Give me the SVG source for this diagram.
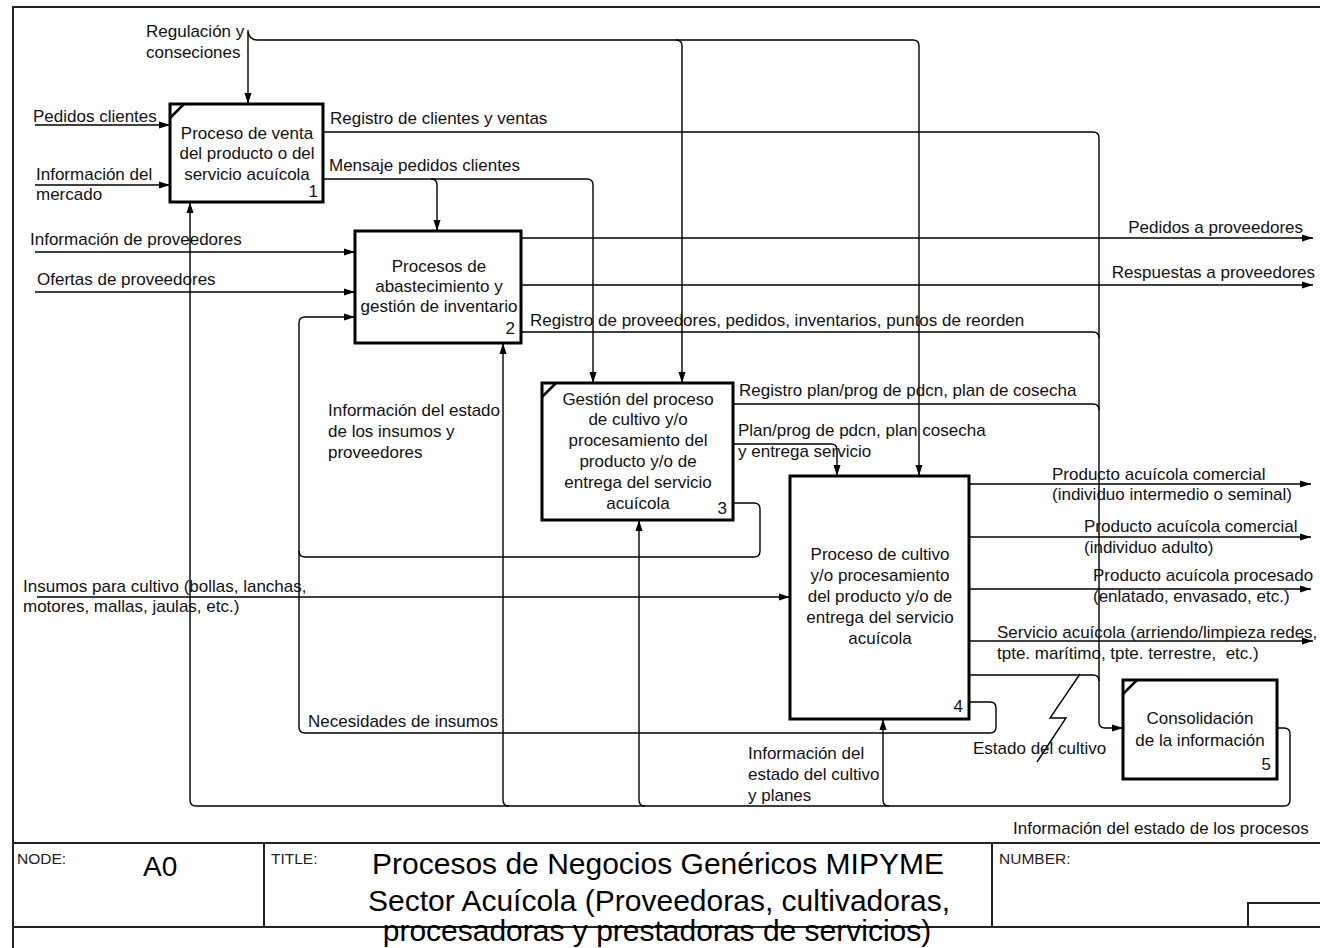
<svg xmlns="http://www.w3.org/2000/svg" width="1320" height="948" viewBox="0 0 1320 948">
<style>
.bg{fill:#fff}
.frame{fill:none;stroke:#222;stroke-width:2}
.box{fill:#fff;stroke:#000;stroke-width:3}
.tick{stroke:#000;stroke-width:2.5}
.ln{fill:none;stroke:#000;stroke-width:1.4}
.t{font-family:"Liberation Sans",Arial,sans-serif;font-size:17px;fill:#111}
.c{text-anchor:middle}
.r{text-anchor:end}
.sm{font-family:"Liberation Sans",Arial,sans-serif;font-size:15.5px;fill:#222}
.big{font-family:"Liberation Sans",Arial,sans-serif;font-size:30px;fill:#000}
</style>
<defs>
<marker id="ah" markerUnits="userSpaceOnUse" markerWidth="11" markerHeight="8" viewBox="0 0 11 8" refX="11" refY="4" orient="auto">
<path d="M0,0.5 L11,4 L0,7.5 z" fill="#000"/>
</marker>
</defs>
<rect class="bg" x="0" y="0" width="1320" height="948"/>
<g id="frame">
<path class="frame" d="M13 948 L13 7 L1320 7"/>
<path class="frame" d="M13 843 H1320 M13 927 H1320 M264 843 V927 M992 843 V927 M1248 927 V903 H1320"/>
<text class="sm" x="17" y="864">NODE:</text>
<text x="143" y="876" style="font-family:'Liberation Sans',Arial,sans-serif;font-size:28px">A0</text>
<text class="sm" x="271" y="864">TITLE:</text>
<text class="sm" x="999" y="864">NUMBER:</text>
<text class="big c" x="658" y="874">Procesos de Negocios Genéricos MIPYME</text>
<text class="big c" x="659" y="911">Sector Acuícola (Proveedoras, cultivadoras,</text>
<text class="big c" x="657" y="941">procesadoras y prestadoras de servicios)</text>
</g>
<g id="connectors">
<path class="ln" d="M248 30 L248 104" marker-end="url(#ah)"/>
<path class="ln" d="M248 32 Q250 40 257 40 L676 40 Q682 40 682 46 L682 383" marker-end="url(#ah)"/>
<path class="ln" d="M676 40 L913 40 Q919 40 919 46 L919 476" marker-end="url(#ah)"/>
<path class="ln" d="M35 125 L170 125" marker-end="url(#ah)"/>
<path class="ln" d="M35 185 L170 185" marker-end="url(#ah)"/>
<path class="ln" d="M323 132 L1093 132 Q1099 132 1099 138 L1099 722 Q1099 728 1105 728 L1123 728" marker-end="url(#ah)"/>
<path class="ln" d="M323 179 L431 179 Q437 179 437 185 L437 231" marker-end="url(#ah)"/>
<path class="ln" d="M431 179 L587 179 Q593 179 593 185 L593 383" marker-end="url(#ah)"/>
<path class="ln" d="M35 252 L355 252" marker-end="url(#ah)"/>
<path class="ln" d="M35 292 L355 292" marker-end="url(#ah)"/>
<path class="ln" d="M521 238 L1313 238" marker-end="url(#ah)"/>
<path class="ln" d="M521 285 L1313 285" marker-end="url(#ah)"/>
<path class="ln" d="M521 332 L1093 332 Q1099 332 1099 338"/>
<path class="ln" d="M733 404 L1093 404 Q1099 404 1099 410"/>
<path class="ln" d="M733 444 L831 444 Q837 444 837 450 L837 476" marker-end="url(#ah)"/>
<path class="ln" d="M733 503 L754 503 Q760 503 760 509 L760 551 Q760 557 754 557 L305 557 Q299 557 299 551"/>
<path class="ln" d="M969 702 L990 702 Q996 702 996 708 L996 727 Q996 733 990 733 L305 733 Q299 733 299 727 L299 323 Q299 317 305 317 L355 317" marker-end="url(#ah)"/>
<path class="ln" d="M37 597 L790 597" marker-end="url(#ah)"/>
<path class="ln" d="M969 484 L1311 484" marker-end="url(#ah)"/>
<path class="ln" d="M969 537 L1311 537" marker-end="url(#ah)"/>
<path class="ln" d="M969 589 L1311 589" marker-end="url(#ah)"/>
<path class="ln" d="M969 641 L1313 641" marker-end="url(#ah)"/>
<path class="ln" d="M969 675 L1093 675 Q1099 675 1099 681"/>
<path class="ln" d="M1080 674 L1050 718 L1066 718 L1037 762"/>
<path class="ln" d="M1277 728 L1284 728 Q1290 728 1290 734 L1290 800 Q1290 806 1284 806 L196 806 Q190 806 190 800 L190 202" marker-end="url(#ah)"/>
<path class="ln" d="M509 806 Q503 806 503 800 L503 343" marker-end="url(#ah)"/>
<path class="ln" d="M645 806 Q639 806 639 800 L639 520" marker-end="url(#ah)"/>
<path class="ln" d="M889 806 Q883 806 883 800 L883 719" marker-end="url(#ah)"/>
</g>
<g id="labels">
<text class="t" x="146" y="37">Regulación y</text>
<text class="t" x="146" y="58">conseciones</text>
<text class="t" x="33" y="122">Pedidos clientes</text>
<text class="t" x="36" y="180">Información del</text>
<text class="t" x="36" y="200">mercado</text>
<text class="t" x="330" y="124">Registro de clientes y ventas</text>
<text class="t" x="329" y="171">Mensaje pedidos clientes</text>
<text class="t" x="30" y="245">Información de proveedores</text>
<text class="t" x="37" y="285">Ofertas de proveedores</text>
<text class="t r" x="1303" y="233">Pedidos a proveedores</text>
<text class="t r" x="1315" y="278">Respuestas a proveedores</text>
<text class="t" x="530" y="326">Registro de proveedores, pedidos, inventarios, puntos de reorden</text>
<text class="t" x="328" y="416">Información del estado</text>
<text class="t" x="328" y="437">de los insumos y</text>
<text class="t" x="328" y="458">proveedores</text>
<text class="t" x="739" y="396">Registro plan/prog de pdcn, plan de cosecha</text>
<text class="t" x="738" y="436">Plan/prog de pdcn, plan cosecha</text>
<text class="t" x="738" y="457">y entrega servicio</text>
<text class="t" x="1052" y="480">Producto acuícola comercial</text>
<text class="t" x="1052" y="500">(individuo intermedio o seminal)</text>
<text class="t" x="1084" y="532">Producto acuícola comercial</text>
<text class="t" x="1084" y="553">(individuo adulto)</text>
<text class="t" x="1093" y="581">Producto acuícola procesado</text>
<text class="t" x="1093" y="602">(enlatado, envasado, etc.)</text>
<text class="t" x="997" y="638">Servicio acuícola (arriendo/limpieza redes,</text>
<text class="t" x="997" y="659">tpte. marítimo, tpte. terrestre,&#160; etc.)</text>
<text class="t" x="23" y="592">Insumos para cultivo (bollas, lanchas,</text>
<text class="t" x="23" y="612">motores, mallas, jaulas, etc.)</text>
<text class="t" x="308" y="727">Necesidades de insumos</text>
<text class="t" x="973" y="754">Estado del cultivo</text>
<text class="t" x="748" y="759">Información del</text>
<text class="t" x="748" y="780">estado del cultivo</text>
<text class="t" x="748" y="801">y planes</text>
<text class="t" x="1013" y="834">Información del estado de los procesos</text>
</g>
<g id="node1">
<rect class="box" x="170" y="104" width="153" height="98"/>
<line class="tick" x1="170" y1="118" x2="184" y2="104"/>
<text class="t c" x="247" y="139">Proceso de venta</text>
<text class="t c" x="247" y="159">del producto o del</text>
<text class="t c" x="247" y="180">servicio acuícola</text>
<text class="t r" x="318" y="197">1</text>
</g>
<g id="node2">
<rect class="box" x="355" y="231" width="166" height="112"/>
<text class="t c" x="439" y="272">Procesos de</text>
<text class="t c" x="439" y="292">abastecimiento y</text>
<text class="t c" x="439" y="312">gestión de inventario</text>
<text class="t r" x="515" y="334">2</text>
</g>
<g id="node3">
<rect class="box" x="542" y="383" width="191" height="137"/>
<line class="tick" x1="542" y1="397" x2="556" y2="383"/>
<text class="t c" x="638" y="405">Gestión del proceso</text>
<text class="t c" x="638" y="425">de cultivo y/o</text>
<text class="t c" x="638" y="446">procesamiento del</text>
<text class="t c" x="638" y="467">producto y/o de</text>
<text class="t c" x="638" y="488">entrega del servicio</text>
<text class="t c" x="638" y="509">acuícola</text>
<text class="t r" x="727" y="514">3</text>
</g>
<g id="node4">
<rect class="box" x="790" y="476" width="179" height="243"/>
<text class="t c" x="880" y="560">Proceso de cultivo</text>
<text class="t c" x="880" y="581">y/o procesamiento</text>
<text class="t c" x="880" y="602">del producto y/o de</text>
<text class="t c" x="880" y="623">entrega del servicio</text>
<text class="t c" x="880" y="644">acuícola</text>
<text class="t r" x="963" y="712">4</text>
</g>
<g id="node5">
<rect class="box" x="1123" y="680" width="154" height="99"/>
<line class="tick" x1="1123" y1="694" x2="1137" y2="680"/>
<text class="t c" x="1200" y="724">Consolidación</text>
<text class="t c" x="1200" y="746">de la información</text>
<text class="t r" x="1271" y="770">5</text>
</g>
</svg>
